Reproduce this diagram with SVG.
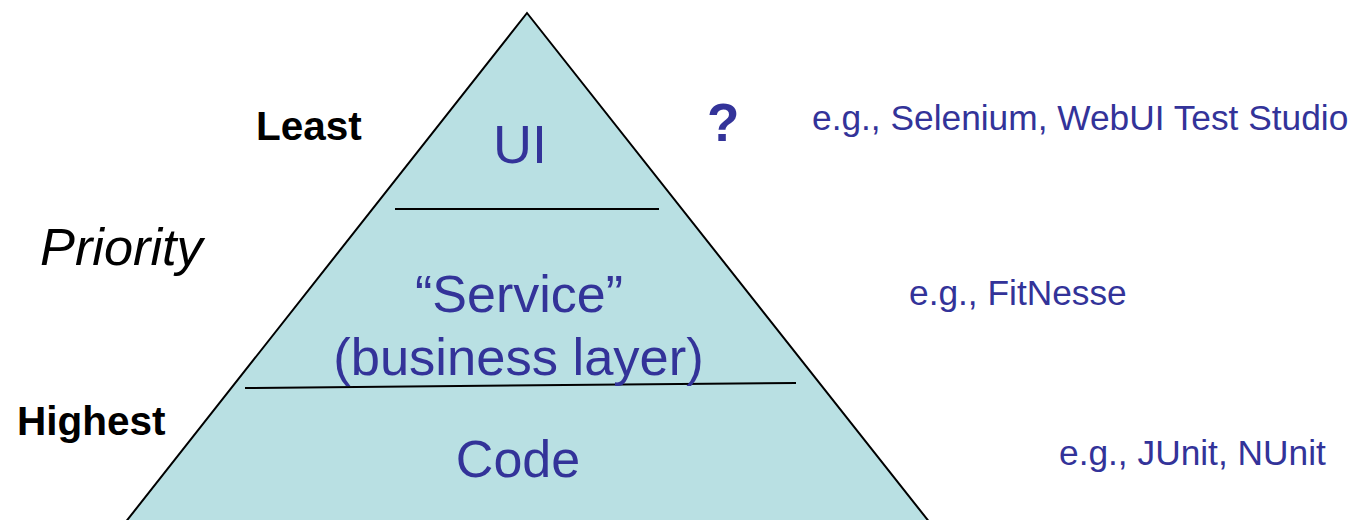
<svg xmlns="http://www.w3.org/2000/svg" width="1355" height="520" viewBox="0 0 1355 520">
  <style>
    .layer { font-family: "Liberation Sans", Arial, sans-serif; fill: #333399; text-anchor: middle; }
    .tool { font-family: "Liberation Sans", Arial, sans-serif; fill: #333399; font-size: 35.3px; }
    .rank { font-family: "Liberation Sans", Arial, sans-serif; fill: #000000; font-weight: bold; font-size: 40.5px; }
    .divider { stroke: #000000; stroke-width: 2; fill: none; }
  </style>
  <rect width="1355" height="520" fill="#ffffff"/>

  <!-- pyramid body -->
  <g id="pyramid">
    <polygon points="527,13 117,533 938,533" fill="#B9E0E3" stroke="#000000" stroke-width="2" stroke-linejoin="miter"/>
  </g>

  <!-- layer dividers -->
  <g id="connectors">
    <line class="divider" x1="395" y1="209" x2="659" y2="209"/>
    <line class="divider" x1="245" y1="388" x2="796" y2="383"/>
  </g>

  <g id="layer-ui">
    <text class="layer" x="520" y="163" font-size="54">UI</text>
  </g>
  <g id="layer-service">
    <text class="layer" x="519" y="312" font-size="52">“Service”</text>
    <text class="layer" x="518.5" y="375" font-size="52.5">(business layer)</text>
  </g>
  <g id="layer-code">
    <text class="layer" x="518" y="477" font-size="52">Code</text>
  </g>

  <g id="priority-scale">
    <text class="rank" x="256" y="140">Least</text>
    <text x="40" y="265" font-family="'Liberation Sans', Arial, sans-serif" font-style="italic" font-size="52.3" fill="#000000">Priority</text>
    <text class="rank" x="17" y="435">Highest</text>
  </g>

  <g id="ui-question">
    <text x="707" y="141" font-family="'Liberation Sans', Arial, sans-serif" font-weight="bold" font-size="53" fill="#333399">?</text>
  </g>

  <g id="tools">
    <text class="tool" x="812" y="130">e.g., Selenium, WebUI Test Studio</text>
    <text class="tool" x="909" y="305">e.g., FitNesse</text>
    <text class="tool" x="1059" y="465">e.g., JUnit, NUnit</text>
  </g>
</svg>
